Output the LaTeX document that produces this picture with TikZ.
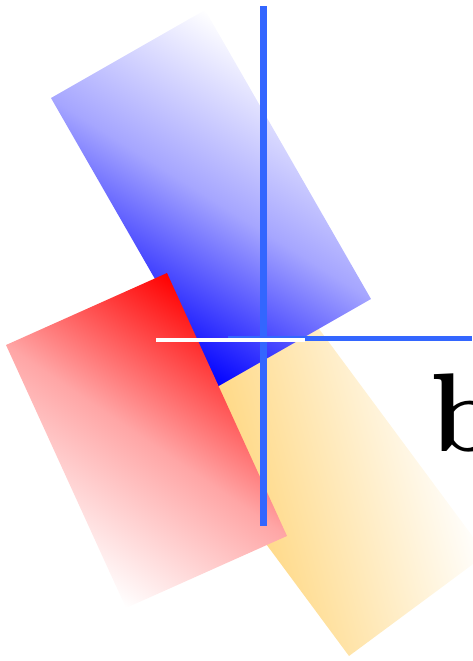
\documentclass[tikz,border=0pt]{standalone}
\usepackage{fontspec}
\usepackage{xcolor}
\usepackage{tikz}
\definecolor{lineblue}{RGB}{51,102,255}
\definecolor{paleorange}{RGB}{255,206,100}

\begin{document}
\begin{tikzpicture}[
  x=1pt, y=1pt,
  bar/.style={draw=lineblue, line width=7.5pt},
  thinbar/.style={draw=lineblue, line width=5pt},
  gap/.style={draw=white, line width=3.4pt}
]
  \useasboundingbox (0,0) rectangle (472,-661);

  % orange sheet (bottom layer)
  \begin{scope}[transform canvas={rotate around={15:(319.3,-472.6)}}]
    \shade[rotate around={-15:(319.3,-472.6)}, left color=paleorange, right color=white]
      (349,-656) -- (486,-554.5) -- (289.6,-289.2) -- (152.6,-390.7) -- cycle;
  \end{scope}

  % blue sheet
  \begin{scope}[transform canvas={rotate around={-32.1:(211,-198.5)}}]
    \shade[rotate around={32.1:(211,-198.5)}, top color=white, bottom color=blue,
      middle color=blue!35]
      (217,-387) -- (371,-299) -- (205,-10) -- (51,-98) -- cycle;
  \end{scope}

  % red sheet (top layer)
  \begin{scope}[transform canvas={rotate around={-34.2:(146.5,-440.5)}}]
    \shade[rotate around={34.2:(146.5,-440.5)}, top color=red, bottom color=white,
      middle color=red!35]
      (126,-608) -- (287,-536) -- (167,-273) -- (6,-345) -- cycle;
  \end{scope}

  % axes
  \coordinate (hl) at (228,-338.3);
  \coordinate (hr) at (472,-338.3);
  \coordinate (vt) at (263.7,-6.5);
  \coordinate (vb) at (263.7,-525.5);
  \coordinate (wl) at (156,-340);
  \coordinate (wr) at (305,-340);
  \draw[thinbar] (hl) -- (hr);
  \draw[bar] (vt) -- (vb);
  \draw[gap] (wl) -- (wr);

  \node[anchor=base west, inner sep=0pt, font=\fontsize{112}{112}\selectfont\bfseries] (lbl) at (430,-451) {b};
\end{tikzpicture}
\end{document}
